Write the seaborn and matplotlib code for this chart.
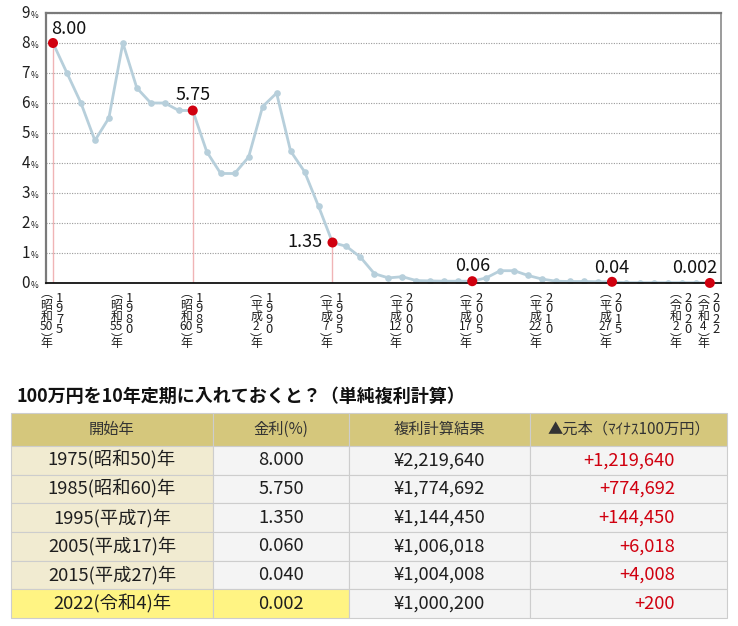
import matplotlib
matplotlib.use("Agg")
import matplotlib.pyplot as plt
import seaborn as sns
import pandas as pd

# --- data ---
years = list(range(1975, 2023))
rates = [8.00, 7.00, 6.00, 4.75, 5.50, 8.00, 6.50, 6.00, 6.00, 5.75,
         5.75, 4.38, 3.65, 3.65, 4.20, 5.88, 6.33, 4.40, 3.71, 2.56,
         1.35, 1.22, 0.86, 0.31, 0.17, 0.21, 0.08, 0.07, 0.06, 0.06,
         0.06, 0.17, 0.41, 0.41, 0.25, 0.13, 0.06, 0.05, 0.05, 0.04,
         0.04, 0.01, 0.01, 0.01, 0.01, 0.01, 0.01, 0.002]

mark_years = [1975, 1985, 1995, 2005, 2015, 2022]
mark_rates = [8.00, 5.75, 1.35, 0.06, 0.04, 0.002]
mark_labels = ["8.00", "5.75", "1.35", "0.06", "0.04", "0.002"]

tick_years = [1975, 1980, 1985, 1990, 1995, 2000, 2005, 2010, 2015, 2020, 2022]
tick_eras = ["昭和50", "昭和55", "昭和60", "平成2", "平成7", "平成12",
             "平成17", "平成22", "平成27", "令和2", "令和4"]

title = "100万円を10年定期に入れておくと？（単純複利計算）"
table_header = ["開始年", "金利(%)", "複利計算結果", "▲元本（ﾏｲﾅｽ100万円）"]
table_start = ["1975(昭和50)年", "1985(昭和60)年", "1995(平成7)年",
               "2005(平成17)年", "2015(平成27)年", "2022(令和4)年"]
table_rate = ["8.000", "5.750", "1.350", "0.060", "0.040", "0.002"]
table_result = ["¥2,219,640", "¥1,774,692", "¥1,144,450",
                "¥1,006,018", "¥1,004,008", "¥1,000,200"]
table_gain = ["+1,219,640", "+774,692", "+144,450", "+6,018", "+4,008", "+200"]

# --- style ---
LINE = "#B7CFDB"
RED = "#D0000F"
PINK = "#F0B4B6"
TXT = "#1e1e1e"

sns.set_style("white")
plt.rcParams["font.family"] = ["Noto Sans CJK JP", "DejaVu Sans"]

W, H = 738, 626
fig = plt.figure(figsize=(W / 100, H / 100), dpi=100)


def px_box(x0, y0, x1, y1):
    return [x0 / W, 1 - y1 / H, (x1 - x0) / W, (y1 - y0) / H]


def pt(v):
    return v * 0.72


ax = fig.add_axes(px_box(46, 13, 721, 283))
df = pd.DataFrame({"year": years, "rate": rates})

ax.vlines(mark_years, 0, mark_rates, color=PINK, lw=1, zorder=2)
sns.lineplot(data=df, x="year", y="rate", ax=ax, color=LINE, lw=2,
             marker="o", markersize=4.8, markeredgewidth=0, zorder=3)
sns.scatterplot(x=mark_years, y=mark_rates, ax=ax, color=RED, s=52,
                edgecolor="none", zorder=5, clip_on=False)

ax.set_xlim(1974.5, 2022.8)
ax.set_ylim(0, 9)
ax.set_yticks(range(10))
ax.set_xticks([])
ax.set_yticklabels([])
ax.set_xlabel("")
ax.set_ylabel("")
ax.tick_params(length=0)
ax.grid(axis="y", color="#9a9a9a", lw=0.8, ls=(0, (1, 1.3)))
ax.grid(axis="x", visible=False)

for side in ["top", "left"]:
    ax.spines[side].set_color("#7a7a7a")
    ax.spines[side].set_linewidth(1.6)
ax.spines["right"].set_color("#8a8a8a")
ax.spines["right"].set_linewidth(1.2)
ax.spines["bottom"].set_color("#111111")
ax.spines["bottom"].set_linewidth(1.3)
for s in ax.spines.values():
    s.set_zorder(4)

# y tick labels: big digit + small percent sign
for v in range(10):
    ax.annotate(str(v), xy=(0, v), xycoords=("axes fraction", "data"),
                xytext=(pt(-16), pt(-5.5)), textcoords="offset points",
                ha="right", va="baseline", fontsize=11, color=TXT)
    ax.annotate("%", xy=(0, v), xycoords=("axes fraction", "data"),
                xytext=(pt(-15.5), pt(-5.5)), textcoords="offset points",
                ha="left", va="baseline", fontsize=6, color=TXT)

# labels on highlighted points
label_style = [((-2, 9), "left", "baseline"), ((0, 10), "center", "baseline"),
               ((-10, 0), "right", "center"), ((0, 10), "center", "baseline"),
               ((0, 9), "center", "baseline"), ((7, 10), "right", "baseline")]
for yr, rv, lab, ((dx, dy), ha, va) in zip(mark_years, mark_rates, mark_labels, label_style):
    ax.annotate(lab, xy=(yr, rv), xytext=(pt(dx), pt(dy)), textcoords="offset points",
                ha=ha, va=va, fontsize=13, color="#111111", zorder=6,
                annotation_clip=False)


# vertical (tategaki) x labels, one glyph per line
# each item: text, slot height (px), shift of the glyph inside its slot (px)
def stack(items, x_off, top, year, size):
    y = top
    for txt, h, fix in items:
        y_c = y + h / 2 + fix
        ax.annotate(txt, xy=(year, 0), xycoords=("data", "axes fraction"),
                    xytext=(pt(x_off), pt(-y_c)), textcoords="offset points",
                    ha="center", va="center", fontsize=size, color=TXT,
                    annotation_clip=False)
        y += h


for yr, era in zip(tick_years, tick_eras):
    digits = [(ch, 10.5, 0) for ch in str(yr)]
    stack(digits, 6.5, 10, yr, 9.3)
    left = [("︵", 6, -3.5), (era[0], 11, 0), (era[1], 11, 0), (era[2:], 10, 0),
            ("︶", 6.5, 4.5), ("年", 11, 0)]
    stack(left, -6.5, 11, yr, 8.6)

# --- table ---
fig.text(17 / W, 1 - 396 / H, title, fontsize=13, fontweight="bold",
         ha="left", va="center", color="#111111")

tax = fig.add_axes(px_box(11, 413, 727, 618))
tax.axis("off")
body = [list(r) for r in zip(table_start, table_rate, table_result, table_gain)]
col_w = [202, 136, 181, 197]
tbl = tax.table(cellText=body, colLabels=table_header,
                colWidths=[w / sum(col_w) for w in col_w],
                cellLoc="center", bbox=[0, 0, 1, 1])
tbl.auto_set_font_size(False)
n_rows = len(body)
for (r, c), cell in tbl.get_celld().items():
    cell.set_edgecolor("#CDCDCD")
    cell.set_linewidth(0.8)
    cell.set_height(33 if r == 0 else 28.7)
    txt = cell.get_text()
    if r == 0:
        cell.set_facecolor("#D5C77C")
        txt.set_fontsize(11)
        txt.set_color("#333333")
    else:
        face = "#F1EBD1" if c == 0 else "#F4F4F4"
        if r == n_rows and c < 2:
            face = "#FFF483"
        cell.set_facecolor(face)
        txt.set_fontsize(13.2)
        txt.set_color(TXT)
        if c == 3:
            txt.set_color(RED)
            txt.set_ha("right")
            cell.PAD = 0.265

fig.savefig("out.png", dpi=100)
